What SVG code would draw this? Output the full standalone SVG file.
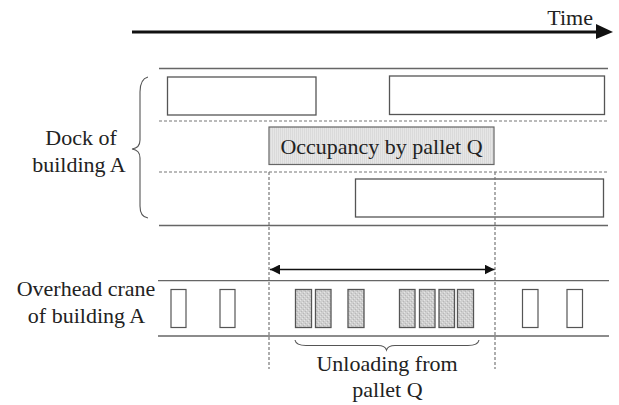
<svg xmlns="http://www.w3.org/2000/svg" width="619" height="405" viewBox="0 0 619 405">
<defs>
<style>
.row{stroke:#666;stroke-width:1.3;fill:none}
.dash{stroke:#777;stroke-width:1.2;stroke-dasharray:3,2;fill:none}
.box{fill:#fff;stroke:#555;stroke-width:1.3}
.occ{fill:url(#stripe);stroke:#666;stroke-width:1.2}
.g{fill:url(#dots);stroke:#555;stroke-width:1.3}
.w{fill:#fff;stroke:#555;stroke-width:1.2}
.br{fill:none;stroke:#555;stroke-width:1.1}
</style>
<pattern id="stripe" width="2" height="2" patternUnits="userSpaceOnUse">
<rect width="2" height="2" fill="#e6e6e6"/>
<rect width="1" height="2" fill="#dadada"/>
</pattern>
<pattern id="dots" width="4" height="4" patternUnits="userSpaceOnUse">
<rect width="4" height="4" fill="#cfcfcf"/>
<rect x="0" y="0" width="1" height="1" fill="#e4e4e4"/>
<rect x="2" y="2" width="1" height="1" fill="#e4e4e4"/>
<rect x="1" y="3" width="1" height="1" fill="#b8b8b8"/>
<rect x="3" y="1" width="1" height="1" fill="#b8b8b8"/>
</pattern>
<marker id="ah" viewBox="0 0 10 10" refX="10" refY="5" markerWidth="10" markerHeight="10" markerUnits="userSpaceOnUse" orient="auto-start-reverse">
<path d="M0,0 L10,5 L0,10 Z" fill="#111"/>
</marker>
</defs>

<g id="time-axis">
<line x1="132" y1="32" x2="598" y2="32" stroke="#111" stroke-width="3"/>
<path d="M596,24 L613,32 L596,39 Z" fill="#111"/>
<text font-family="Liberation Serif" font-size="22" fill="#222" x="593" y="25" text-anchor="end">Time</text>
</g>

<g id="dock-lanes">
<line class="row" x1="159" y1="68.5" x2="608" y2="68.5"/>
<line class="dash" x1="159" y1="121" x2="609" y2="121"/>
<line class="dash" x1="159" y1="172" x2="609" y2="172"/>
<line class="row" x1="159" y1="225.5" x2="608" y2="225.5"/>
</g>

<g id="dock-label" font-family="Liberation Serif" font-size="22" fill="#222">
<path class="br" d="M148,77 Q140,79 140,92 L140,140 Q140,148 132,149 Q140,150 140,158 L140,206 Q140,217 148,218"/>
<text x="81" y="145" text-anchor="middle">Dock of</text>
<text x="79" y="172" text-anchor="middle">building A</text>
</g>

<g id="dock-box-1"><rect class="box" x="167.5" y="77" width="148.5" height="38"/></g>
<g id="dock-box-2"><rect class="box" x="389.5" y="76" width="215" height="38.5"/></g>
<g id="occupancy">
<rect class="occ" x="269" y="127" width="225" height="37.5"/>
<text font-family="Liberation Serif" font-size="22" fill="#222" x="381.5" y="154" text-anchor="middle">Occupancy by pallet Q</text>
</g>
<g id="dock-box-3"><rect class="box" x="355.5" y="179" width="248" height="38"/></g>

<g id="connectors">
<line class="dash" x1="269" y1="172" x2="269" y2="369"/>
<line class="dash" x1="495" y1="172" x2="495" y2="369"/>
<line x1="270" y1="269.5" x2="494.5" y2="269.5" stroke="#111" stroke-width="1.5" marker-start="url(#ah)" marker-end="url(#ah)"/>
</g>

<g id="crane-lanes">
<line class="row" x1="158" y1="280.7" x2="609" y2="280.7"/>
<line class="row" x1="158" y1="336" x2="609" y2="336"/>
</g>

<g id="crane-label" font-family="Liberation Serif" font-size="22" fill="#222">
<text x="86" y="296" text-anchor="middle">Overhead crane</text>
<text x="86.5" y="323" text-anchor="middle">of building A</text>
</g>

<g id="crane-tasks">
<rect class="w" x="171" y="289.5" width="15" height="38"/>
<rect class="w" x="220" y="289.5" width="15" height="38"/>
<rect class="g" x="295.5" y="289.5" width="16" height="38"/>
<rect class="g" x="315.5" y="289.5" width="15.5" height="38"/>
<rect class="g" x="348" y="289.5" width="16" height="38"/>
<rect class="g" x="399.5" y="289.5" width="15.5" height="38"/>
<rect class="g" x="419.5" y="289.5" width="15.5" height="38"/>
<rect class="g" x="439" y="289.5" width="15.5" height="38"/>
<rect class="g" x="457.5" y="289.5" width="16" height="38"/>
<rect class="w" x="522.5" y="289.5" width="15.5" height="38"/>
<rect class="w" x="567" y="289.5" width="15.5" height="38"/>
</g>

<g id="unloading-label" font-family="Liberation Serif" font-size="22" fill="#222">
<path class="br" d="M295,340 Q296,345.5 306,345.5 L378,345.5 Q385,345.5 386.5,350 Q388,345.5 395,345.5 L468,345.5 Q478,345.5 479,340"/>
<text x="387" y="371" text-anchor="middle">Unloading from</text>
<text x="387.5" y="397" text-anchor="middle">pallet Q</text>
</g>
</svg>
